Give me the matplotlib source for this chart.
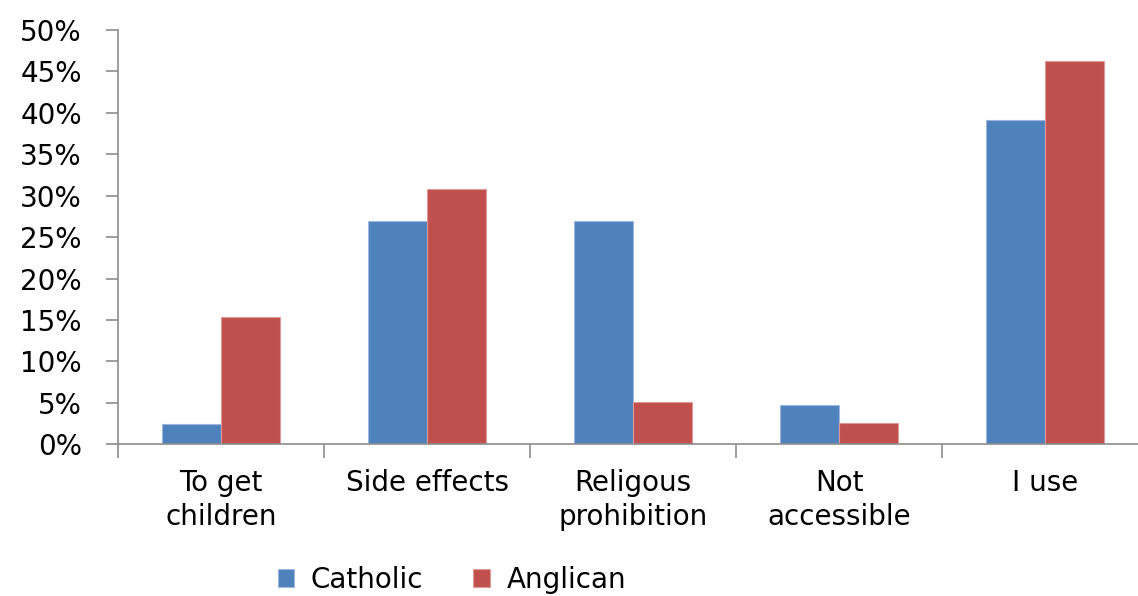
import numpy as np
import matplotlib.pyplot as plt
from matplotlib.ticker import PercentFormatter

categories = ['To get\nchildren', 'Side effects', 'Religous\nprohibition', 'Not\naccessible', 'I use']
catholic = [2.5, 26.9, 26.9, 4.8, 39.1]
anglican = [15.4, 30.8, 5.1, 2.6, 46.2]

blue = '#4F81BD'
red = '#C0504D'
axis_grey = '#8C8C8C'

plt.rcParams['font.family'] = 'DejaVu Sans'
plt.rcParams['font.size'] = 20

fig = plt.figure(figsize=(11.38, 5.96), dpi=100)
ax = fig.add_axes([118 / 1138, 1 - 444.3 / 596, 1030 / 1138, 414.3 / 596])

x = np.arange(len(categories))
w = 0.284
ax.bar(x - w / 2, np.array(catholic) / 100, w, color=blue, edgecolor='#9DB7DD', linewidth=0.8, label='Catholic')
ax.bar(x + w / 2, np.array(anglican) / 100, w, color=red, edgecolor='#DE9A98', linewidth=0.8, label='Anglican')

ax.set_xlim(-0.5, len(categories) - 0.5)
ax.set_ylim(0, 0.5)
ax.set_yticks(np.arange(0, 0.51, 0.05))
ax.yaxis.set_major_formatter(PercentFormatter(1.0, decimals=0))

ax.set_xticks(x)
ax.set_xticklabels(categories, linespacing=1.25, va='top')
ax.set_xticks(np.arange(-0.5, len(categories)), minor=True)
ax.tick_params(axis='x', which='major', length=0, pad=18)
ax.tick_params(axis='x', which='minor', length=10, width=1.2, color=axis_grey)
ax.tick_params(axis='y', length=9, width=1.2, color=axis_grey, pad=17)

for side in ['top', 'right']:
    ax.spines[side].set_visible(False)
for side in ['left', 'bottom']:
    ax.spines[side].set_color(axis_grey)
    ax.spines[side].set_linewidth(1.2)

fig.legend(loc='center', bbox_to_anchor=(452 / 1138, 1 - 580 / 596), ncol=2, frameon=False,
           handlelength=0.6, handleheight=0.6, handletextpad=0.6, columnspacing=1.8, fontsize=20)

fig.savefig('out.png', dpi=100)
